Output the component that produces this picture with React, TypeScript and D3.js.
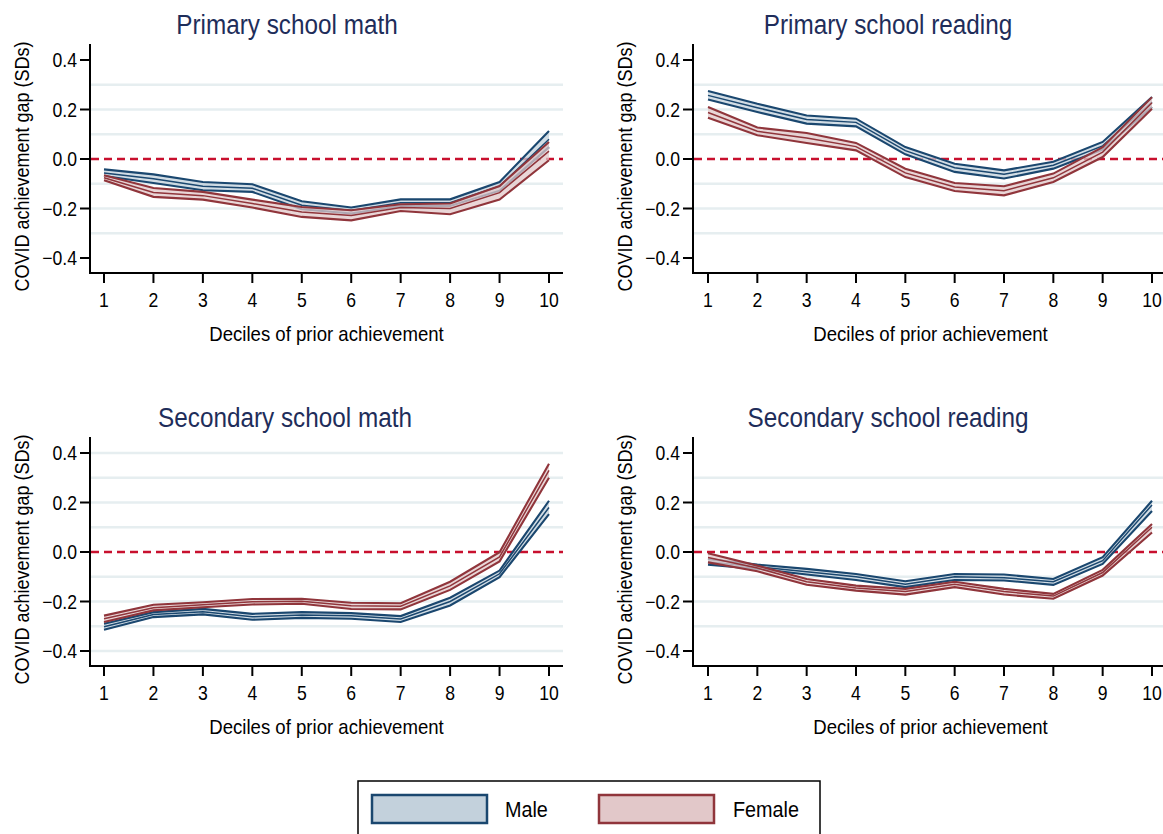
import React from "react";
import * as d3 from "d3";

const deciles = [1, 2, 3, 4, 5, 6, 7, 8, 9, 10];
const yTicks = [-0.4, -0.2, 0.0, 0.2, 0.4];
const seriesNames = ["Male", "Female"];
const panelTitles = ["Primary school math", "Primary school reading", "Secondary school math", "Secondary school reading"];

// Primary school math
const pmMaleMean = [-0.057, -0.08, -0.11, -0.118, -0.187, -0.208, -0.177, -0.177, -0.11, 0.08];
const pmMaleLo = [-0.069, -0.097, -0.126, -0.133, -0.203, -0.22, -0.19, -0.19, -0.128, 0.048];
const pmMaleHi = [-0.042, -0.062, -0.093, -0.102, -0.171, -0.196, -0.163, -0.163, -0.093, 0.113];
const pmFemaleMean = [-0.076, -0.135, -0.148, -0.18, -0.214, -0.228, -0.196, -0.2, -0.136, 0.032];
const pmFemaleLo = [-0.086, -0.153, -0.164, -0.196, -0.234, -0.248, -0.21, -0.223, -0.164, -0.005];
const pmFemaleHi = [-0.066, -0.117, -0.133, -0.164, -0.194, -0.207, -0.183, -0.18, -0.109, 0.069];

// Primary school reading
const prMaleMean = [0.257, 0.207, 0.16, 0.148, 0.034, -0.035, -0.062, -0.025, 0.053, 0.23];
const prMaleLo = [0.24, 0.19, 0.143, 0.132, 0.019, -0.052, -0.079, -0.039, 0.038, 0.21];
const prMaleHi = [0.275, 0.223, 0.176, 0.163, 0.048, -0.019, -0.046, -0.011, 0.069, 0.25];
const prFemaleMean = [0.188, 0.112, 0.085, 0.05, -0.056, -0.113, -0.128, -0.076, 0.028, 0.227];
const prFemaleLo = [0.167, 0.096, 0.065, 0.035, -0.073, -0.129, -0.147, -0.093, 0.008, 0.203];
const prFemaleHi = [0.21, 0.127, 0.105, 0.065, -0.039, -0.097, -0.11, -0.059, 0.048, 0.25];

// Secondary school math
const smMaleMean = [-0.302, -0.253, -0.241, -0.262, -0.255, -0.258, -0.271, -0.2, -0.088, 0.18];
const smMaleLo = [-0.314, -0.263, -0.252, -0.274, -0.266, -0.27, -0.283, -0.216, -0.102, 0.153];
const smMaleHi = [-0.29, -0.243, -0.23, -0.25, -0.243, -0.247, -0.259, -0.185, -0.075, 0.207];
const smFemaleMean = [-0.27, -0.225, -0.213, -0.201, -0.199, -0.217, -0.219, -0.137, -0.02, 0.33];
const smFemaleLo = [-0.283, -0.236, -0.223, -0.212, -0.209, -0.23, -0.232, -0.153, -0.038, 0.3];
const smFemaleHi = [-0.257, -0.213, -0.203, -0.19, -0.189, -0.205, -0.207, -0.12, -0.001, 0.357];

// Secondary school reading
const srMaleMean = [-0.04, -0.06, -0.08, -0.1, -0.13, -0.1, -0.104, -0.12, -0.035, 0.19];
const srMaleLo = [-0.051, -0.068, -0.091, -0.113, -0.142, -0.113, -0.115, -0.133, -0.048, 0.166];
const srMaleHi = [-0.028, -0.051, -0.068, -0.089, -0.118, -0.089, -0.091, -0.109, -0.021, 0.207];
const srFemaleMean = [-0.022, -0.065, -0.12, -0.145, -0.16, -0.13, -0.16, -0.178, -0.083, 0.1];
const srFemaleLo = [-0.042, -0.078, -0.132, -0.156, -0.172, -0.142, -0.172, -0.189, -0.095, 0.079];
const srFemaleHi = [-0.005, -0.055, -0.109, -0.136, -0.149, -0.12, -0.149, -0.169, -0.072, 0.113];

const gridTop = [-0.3, -0.2, -0.1, 0.1, 0.2, 0.3];
const gridBottomLeft = [-0.4, -0.3, -0.2, -0.1, 0.1, 0.2, 0.3, 0.4];
const gridBottomRight = [-0.3, -0.2, -0.1, 0.1, 0.2, 0.3];

const FONT = "'Liberation Sans Narrow', 'Arial Narrow', 'Liberation Sans', Arial, sans-serif";
const NAVY = "#1a476f";
const MAROON = "#90353b";
const NAVY_FILL = "#c3d1dc";
const MAROON_FILL = "#e2c8c9";
const TITLE_COLOR = "#1e2d5a";
const GRID = "#e6eef0";
const ZERO = "#c8102e";

type Band = { mean: number[]; lo: number[]; hi: number[] };

const panels = [
  {
    title: panelTitles[0],
    male: { mean: pmMaleMean, lo: pmMaleLo, hi: pmMaleHi },
    female: { mean: pmFemaleMean, lo: pmFemaleLo, hi: pmFemaleHi },
    grid: gridTop,
    left: 90, x1: 104, x10: 549, right: 563,
    yTopVal: 60, yBotVal: 258, axisTop: 44, axisBottom: 273, titleX: 287, titleY: 34,
  },
  {
    title: panelTitles[1],
    male: { mean: prMaleMean, lo: prMaleLo, hi: prMaleHi },
    female: { mean: prFemaleMean, lo: prFemaleLo, hi: prFemaleHi },
    grid: gridTop,
    left: 693, x1: 708, x10: 1152, right: 1168,
    yTopVal: 60, yBotVal: 258, axisTop: 44, axisBottom: 273, titleX: 888, titleY: 34,
  },
  {
    title: panelTitles[2],
    male: { mean: smMaleMean, lo: smMaleLo, hi: smMaleHi },
    female: { mean: smFemaleMean, lo: smFemaleLo, hi: smFemaleHi },
    grid: gridBottomLeft,
    left: 90, x1: 104, x10: 549, right: 563,
    yTopVal: 453, yBotVal: 651, axisTop: 437, axisBottom: 666, titleX: 285, titleY: 427,
  },
  {
    title: panelTitles[3],
    male: { mean: srMaleMean, lo: srMaleLo, hi: srMaleHi },
    female: { mean: srFemaleMean, lo: srFemaleLo, hi: srFemaleHi },
    grid: gridBottomRight,
    left: 693, x1: 708, x10: 1152, right: 1168,
    yTopVal: 453, yBotVal: 651, axisTop: 437, axisBottom: 666, titleX: 888, titleY: 427,
  },
];

// Condensed text: the narrow face is not installed, so squeeze a regular face horizontally.
function NText({
  x, y, size, sx = 0.88, anchor = "start", fill = "#000", rotate = 0, dy = "0", children,
}: {
  x: number; y: number; size: number; sx?: number; anchor?: string; fill?: string; rotate?: number; dy?: string; children: any;
}) {
  return (
    <text
      transform={`translate(${x},${y}) rotate(${rotate}) scale(${sx},1)`}
      textAnchor={anchor as any}
      dy={dy}
      fontSize={size}
      fontFamily={FONT}
      fill={fill}
    >
      {children}
    </text>
  );
}

function BandMarks({ band, x, y, stroke, fill }: { band: Band; x: any; y: any; stroke: string; fill: string }) {
  const area = d3
    .area<number>()
    .x((d) => x(d))
    .y0((_, i) => y(band.lo[i]))
    .y1((_, i) => y(band.hi[i]));
  const line = (arr: number[]) =>
    d3
      .line<number>()
      .x((d) => x(d))
      .y((_, i) => y(arr[i]))(deciles) as string;
  return (
    <g>
      <path d={area(deciles) as string} fill={fill} fillOpacity={0.75} stroke="none" />
      <path d={line(band.hi)} fill="none" stroke={stroke} strokeWidth={2.1} />
      <path d={line(band.lo)} fill="none" stroke={stroke} strokeWidth={2.1} />
      <path d={line(band.mean)} fill="none" stroke={stroke} strokeWidth={1.5} />
    </g>
  );
}

function Panel({ p }: { p: (typeof panels)[number] }) {
  const x = d3.scaleLinear().domain([1, 10]).range([p.x1, p.x10]);
  const y = d3.scaleLinear().domain([-0.4, 0.4]).range([p.yBotVal, p.yTopVal]);
  const cx = (p.left + p.right) / 2;
  const cy = (p.axisTop + p.axisBottom) / 2;
  return (
    <g>
      {p.grid.map((g) => (
        <line key={g} x1={p.left + 1} x2={p.right} y1={y(g)} y2={y(g)} stroke={GRID} strokeWidth={2.5} />
      ))}
      <line x1={p.left + 1} x2={p.right} y1={y(0)} y2={y(0)} stroke={ZERO} strokeWidth={2.5} strokeDasharray="8 5" />
      <BandMarks band={p.male} x={x} y={y} stroke={NAVY} fill={NAVY_FILL} />
      <BandMarks band={p.female} x={x} y={y} stroke={MAROON} fill={MAROON_FILL} />
      <line x1={p.left} x2={p.left} y1={p.axisTop} y2={p.axisBottom + 1} stroke="#000" strokeWidth={2} />
      <line x1={p.left - 1} x2={p.right} y1={p.axisBottom} y2={p.axisBottom} stroke="#000" strokeWidth={2} />
      {yTicks.map((t) => (
        <g key={t}>
          <line x1={p.left - 10} x2={p.left} y1={y(t)} y2={y(t)} stroke="#000" strokeWidth={2} />
          <NText x={p.left - 13} y={y(t)} dy="0.36em" anchor="end" size={20}>
            {d3.format(".1f")(t)}
          </NText>
        </g>
      ))}
      {deciles.map((d) => (
        <g key={d}>
          <line x1={x(d)} x2={x(d)} y1={p.axisBottom} y2={p.axisBottom + 10} stroke="#000" strokeWidth={2} />
          <NText x={x(d)} y={p.axisBottom + 27} dy="0.36em" anchor="middle" size={20}>
            {d}
          </NText>
        </g>
      ))}
      <NText x={cx} y={p.axisBottom + 61} dy="0.36em" anchor="middle" size={20} sx={0.93}>
        Deciles of prior achievement
      </NText>
      <NText x={p.left - 68} y={cy + 8} dy="0.36em" anchor="middle" size={20} sx={0.9} rotate={-90}>
        COVID achievement gap (SDs)
      </NText>
      <NText x={p.titleX} y={p.titleY} anchor="middle" size={27} sx={0.9} fill={TITLE_COLOR}>
        {p.title}
      </NText>
    </g>
  );
}

export default function App() {
  return (
    <svg width={1163} height={834} style={{ position: "absolute", left: 0, top: 0, background: "#fff" }}>
      <rect x={0} y={0} width={1163} height={834} fill="#fff" />
      {panels.map((p, i) => (
        <Panel key={i} p={p} />
      ))}
      <rect x={358} y={781} width={462} height={60} fill="#fff" stroke="#000" strokeWidth={1.5} />
      <rect x={372} y={795} width={115} height={28} fill={NAVY_FILL} stroke={NAVY} strokeWidth={2.5} />
      <NText x={505} y={809} dy="0.36em" size={22} sx={0.9}>
        {seriesNames[0]}
      </NText>
      <rect x={599} y={795} width={115} height={28} fill={MAROON_FILL} stroke={MAROON} strokeWidth={2.5} />
      <NText x={733} y={809} dy="0.36em" size={22} sx={0.9}>
        {seriesNames[1]}
      </NText>
    </svg>
  );
}
